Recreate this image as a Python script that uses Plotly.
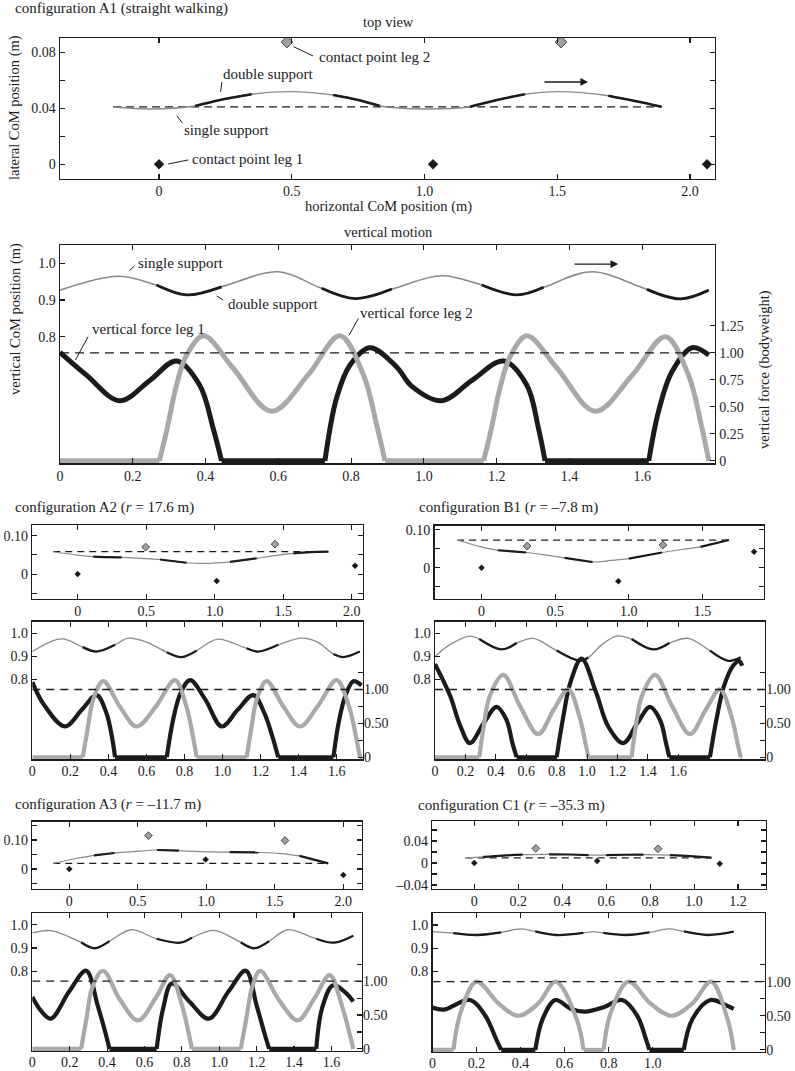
import plotly.graph_objects as go

W, H = 795, 1071
FONT = "Liberation Serif"
INK = "#1b1b1b"
GREY_F = "#a9a9a9"
GREY_C = "#8a8a8a"
GREY_D = "#a0a0a0"

# ---------------- A1 (straight walking) : top view ----------------
A1_TOP_X = [-0.173, -0.034, 0.136, 0.23, 0.349, 0.493, 0.656, 0.75, 0.832, 1.002, 1.171, 1.273, 1.378, 1.504, 1.692, 1.793, 1.893]
A1_TOP_Y = [0.0409, 0.0395, 0.0416, 0.0459, 0.0500, 0.0519, 0.0495, 0.0459, 0.0416, 0.0395, 0.0411, 0.0459, 0.0500, 0.0519, 0.0490, 0.0452, 0.0411]
A1_TOP_DS = [[0.136, 0.349], [0.656, 0.832], [1.171, 1.378], [1.692, 1.893]]
A1_TOP_REF = 0.041
A1_LEG1_X = [0.0, 1.032, 2.064]
A1_LEG1_Y = [0.0, 0.0, 0.0]
A1_LEG2_X = [0.482, 1.514]
A1_LEG2_Y = [0.0873, 0.0873]

# ---------------- A1 : vertical motion ----------------
A1_T_END = 1.783
A1_COM_T = [0, 0.16, 0.265, 0.348, 0.444, 0.60, 0.719, 0.811, 0.912, 1.049, 1.159, 1.256, 1.329, 1.462, 1.613, 1.705, 1.783]
A1_COM_Z = [0.927, 0.965, 0.941, 0.914, 0.936, 0.977, 0.932, 0.904, 0.930, 0.966, 0.941, 0.914, 0.935, 0.977, 0.929, 0.903, 0.927]
A1_DS = [[0.265, 0.444], [0.719, 0.912], [1.159, 1.329], [1.613, 1.783]]
A1_F1_T = [[0, 0.072, 0.164, 0.247, 0.32, 0.384, 0.421, 0.444],
           [0.728, 0.76, 0.797, 0.852, 0.925, 0.967, 1.049, 1.132, 1.219, 1.283, 1.315, 1.333],
           [1.618, 1.645, 1.682, 1.737, 1.783]]
A1_F1_F = [[1.005, 0.796, 0.557, 0.745, 0.925, 0.70, 0.30, 0],
           [0, 0.582, 0.888, 1.048, 0.87, 0.69, 0.557, 0.745, 0.925, 0.70, 0.30, 0],
           [0, 0.46, 0.827, 1.048, 0.98]]
A1_F2_T = [[0.273, 0.293, 0.32, 0.348, 0.395, 0.476, 0.581, 0.682, 0.769, 0.834, 0.87, 0.893],
           [1.164, 1.184, 1.211, 1.239, 1.283, 1.366, 1.471, 1.573, 1.664, 1.727, 1.762, 1.783]]
A1_F2_F = [[0, 0.276, 0.70, 0.98, 1.158, 0.858, 0.46, 0.796, 1.158, 0.796, 0.337, 0],
           [0, 0.276, 0.70, 0.98, 1.158, 0.858, 0.46, 0.796, 1.15, 0.796, 0.337, 0]]

# ---------------- A2 (r = 17.6 m) ----------------
A2_TOP_X = [-0.178, 0.0, 0.114, 0.22, 0.321, 0.46, 0.6, 0.795, 0.917, 1.112, 1.306, 1.44, 1.574, 1.70, 1.83]
A2_TOP_Y = [0.0583, 0.0496, 0.0455, 0.0440, 0.0435, 0.0410, 0.0380, 0.0296, 0.0279, 0.0320, 0.0409, 0.0480, 0.0540, 0.0570, 0.0583]
A2_TOP_DS = [[0.114, 0.321], [0.6, 0.795], [1.112, 1.306], [1.574, 1.83]]
A2_TOP_REF = 0.0583
A2_LEG1_X = [0.0, 1.015, 2.024]
A2_LEG1_Y = [0.0, -0.0183, 0.0218]
A2_LEG2_X = [0.496, 1.44]
A2_LEG2_Y = [0.0705, 0.078]

A2_T_END = 1.731
A2_COM_T = [0, 0.154, 0.265, 0.338, 0.435, 0.504, 0.60, 0.707, 0.785, 0.864, 0.97, 1.127, 1.188, 1.293, 1.416, 1.50, 1.583, 1.635, 1.722]
A2_COM_Z = [0.921, 0.976, 0.940, 0.921, 0.950, 0.979, 0.962, 0.918, 0.897, 0.925, 0.974, 0.935, 0.921, 0.950, 0.979, 0.962, 0.910, 0.897, 0.921]
A2_DS = [[0.265, 0.435], [0.707, 0.864], [1.127, 1.293], [1.583, 1.722]]
A2_F1_T = [[0, 0.06, 0.171, 0.26, 0.338, 0.39, 0.42, 0.435],
           [0.707, 0.74, 0.78, 0.83, 0.91, 0.996, 1.08, 1.162, 1.22, 1.265, 1.293],
           [1.583, 1.61, 1.645, 1.688, 1.731]]
A2_F1_F = [[1.11, 0.78, 0.454, 0.70, 0.917, 0.65, 0.28, 0],
           [0, 0.55, 0.95, 1.137, 0.85, 0.454, 0.70, 0.917, 0.65, 0.28, 0],
           [0, 0.5, 0.9, 1.122, 1.06]]
A2_F2_T = [[0.265, 0.29, 0.32, 0.373, 0.46, 0.548, 0.65, 0.75, 0.81, 0.845, 0.864],
           [1.127, 1.15, 1.18, 1.232, 1.32, 1.407, 1.5, 1.6, 1.665, 1.702, 1.722]]
A2_F2_F = [[0, 0.4, 0.85, 1.122, 0.75, 0.454, 0.75, 1.137, 0.75, 0.3, 0],
           [0, 0.4, 0.85, 1.122, 0.75, 0.454, 0.75, 1.137, 0.75, 0.3, 0]]

# ---------------- B1 (r = -7.8 m) ----------------
B1_TOP_X = [-0.165, -0.003, 0.11, 0.21, 0.303, 0.43, 0.564, 0.754, 0.88, 1.0, 1.226, 1.36, 1.487, 1.68]
B1_TOP_Y = [0.073, 0.055, 0.046, 0.043, 0.040, 0.034, 0.026, 0.015, 0.019, 0.024, 0.040, 0.048, 0.055, 0.073]
B1_TOP_DS = [[0.11, 0.303], [0.564, 0.754], [1.0, 1.226], [1.487, 1.68]]
B1_TOP_REF = 0.073
B1_LEG1_X = [0.0, 0.929, 1.85]
B1_LEG1_Y = [0.0, -0.036, 0.042]
B1_LEG2_X = [0.31, 1.232]
B1_LEG2_Y = [0.057, 0.060]

B1_T_END = 2.02
B1_COM_T = [0, 0.10, 0.23, 0.291, 0.438, 0.537, 0.646, 0.8, 0.953, 1.008, 1.10, 1.194, 1.293, 1.435, 1.541, 1.666, 1.808, 1.929, 2.01]
B1_COM_Z = [0.899, 0.952, 0.988, 0.975, 0.930, 0.958, 0.978, 0.925, 0.881, 0.895, 0.952, 0.988, 0.975, 0.930, 0.958, 0.978, 0.925, 0.881, 0.896]
B1_DS = [[0.291, 0.537], [0.8, 1.008], [1.293, 1.541], [1.808, 2.01]]
B1_F1_T = [[0, 0.099, 0.164, 0.23, 0.32, 0.405, 0.47, 0.51, 0.537],
           [0.8, 0.84, 0.89, 0.964, 1.06, 1.14, 1.238, 1.33, 1.414, 1.48, 1.52, 1.541],
           [1.808, 1.85, 1.9, 1.96, 2.0, 2.02]]
B1_F1_F = [[1.374, 0.91, 0.476, 0.209, 0.50, 0.743, 0.55, 0.20, 0],
           [0, 0.55, 1.10, 1.456, 0.95, 0.45, 0.209, 0.50, 0.743, 0.55, 0.20, 0],
           [0, 0.55, 1.05, 1.35, 1.42, 1.35]]
B1_F2_T = [[0.291, 0.32, 0.36, 0.449, 0.56, 0.679, 0.78, 0.877, 0.95, 0.99, 1.008],
           [1.293, 1.32, 1.36, 1.447, 1.56, 1.677, 1.78, 1.874, 1.95, 1.99, 2.01]]
B1_F2_F = [[0, 0.45, 0.9, 1.214, 0.75, 0.34, 0.70, 1.0, 0.6, 0.2, 0],
           [0, 0.45, 0.9, 1.214, 0.75, 0.34, 0.70, 1.0, 0.6, 0.2, 0]]

# ---------------- A3 (r = -11.7 m) ----------------
A3_TOP_X = [-0.117, 0.03, 0.18, 0.33, 0.467, 0.64, 0.8, 0.95, 1.17, 1.38, 1.52, 1.68, 1.89]
A3_TOP_Y = [0.0195, 0.0345, 0.047, 0.055, 0.060, 0.0655, 0.063, 0.0595, 0.058, 0.057, 0.054, 0.045, 0.0195]
A3_TOP_DS = [[0.18, 0.33], [0.64, 0.8], [1.17, 1.38], [1.68, 1.89]]
A3_TOP_REF = 0.0195
A3_LEG1_X = [0.0, 0.995, 2.0]
A3_LEG1_Y = [0.0, 0.033, -0.021]
A3_LEG2_X = [0.577, 1.574]
A3_LEG2_Y = [0.115, 0.098]

A3_T_END = 1.717
A3_COM_T = [0, 0.099, 0.261, 0.333, 0.413, 0.53, 0.665, 0.791, 0.854, 0.97, 1.115, 1.187, 1.267, 1.366, 1.519, 1.614, 1.717]
A3_COM_Z = [0.965, 0.975, 0.925, 0.899, 0.930, 0.979, 0.940, 0.923, 0.945, 0.976, 0.925, 0.899, 0.930, 0.979, 0.940, 0.923, 0.953]
A3_DS = [[0.261, 0.413], [0.665, 0.854], [1.115, 1.267], [1.519, 1.717]]
A3_F1_T = [[0, 0.05, 0.099, 0.198, 0.288, 0.35, 0.39, 0.413],
           [0.665, 0.70, 0.746, 0.84, 0.944, 1.05, 1.142, 1.20, 1.24, 1.267],
           [1.519, 1.55, 1.609, 1.68, 1.717]]
A3_F1_F = [[0.767, 0.55, 0.446, 0.85, 1.153, 0.64, 0.25, 0],
           [0, 0.6, 0.965, 0.70, 0.446, 0.85, 1.153, 0.64, 0.25, 0],
           [0, 0.6, 0.94, 0.82, 0.70]]
A3_F2_T = [[0.261, 0.29, 0.32, 0.378, 0.47, 0.566, 0.66, 0.737, 0.80, 0.835, 0.854],
           [1.115, 1.145, 1.175, 1.219, 1.32, 1.42, 1.51, 1.591, 1.655, 1.695, 1.717]]
A3_F2_F = [[0, 0.45, 0.9, 1.153, 0.72, 0.42, 0.75, 1.089, 0.65, 0.25, 0],
           [0, 0.45, 0.9, 1.153, 0.72, 0.42, 0.75, 1.089, 0.65, 0.25, 0]]

# ---------------- C1 (r = -35.3 m) ----------------
C1_TOP_X = [-0.039, 0.04, 0.13, 0.22, 0.34, 0.43, 0.52, 0.6, 0.68, 0.77, 0.89, 0.98, 1.079]
C1_TOP_Y = [0.0092, 0.011, 0.0135, 0.0152, 0.0158, 0.0155, 0.0145, 0.0145, 0.015, 0.0154, 0.0145, 0.0125, 0.0098]
C1_TOP_DS = [[0.04, 0.22], [0.34, 0.52], [0.6, 0.77], [0.89, 1.079]]
C1_TOP_REF = 0.0092
C1_LEG1_X = [0.0, 0.559, 1.117]
C1_LEG1_Y = [0.0, 0.0037, -0.0012]
C1_LEG2_X = [0.28, 0.836]
C1_LEG2_Y = [0.0265, 0.0258]

C1_T_END = 1.368
C1_COM_T = [0, 0.094, 0.203, 0.312, 0.399, 0.467, 0.562, 0.685, 0.73, 0.776, 0.88, 0.985, 1.071, 1.142, 1.251, 1.368]
C1_COM_Z = [0.971, 0.965, 0.957, 0.968, 0.983, 0.972, 0.957, 0.966, 0.971, 0.966, 0.957, 0.968, 0.983, 0.972, 0.957, 0.971]
C1_DS = [[0.094, 0.312], [0.467, 0.685], [0.776, 0.985], [1.142, 1.368]]
C1_F1_T = [[0, 0.05, 0.171, 0.24, 0.29, 0.312],
           [0.467, 0.50, 0.558, 0.63, 0.694, 0.78, 0.861, 0.93, 0.97, 0.985],
           [1.141, 1.18, 1.262, 1.33, 1.368]]
C1_F1_F = [[0.62, 0.59, 0.73, 0.5, 0.15, 0],
           [0, 0.45, 0.73, 0.6, 0.56, 0.63, 0.73, 0.5, 0.15, 0],
           [0, 0.45, 0.73, 0.66, 0.60]]
C1_F2_T = [[0.095, 0.128, 0.2, 0.3, 0.39, 0.48, 0.56, 0.655, 0.686],
           [0.777, 0.81, 0.89, 0.99, 1.085, 1.18, 1.265, 1.34, 1.368]]
C1_F2_F = [[0, 0.55, 1.0, 0.68, 0.5, 0.68, 1.0, 0.45, 0],
           [0, 0.55, 1.0, 0.68, 0.5, 0.68, 1.0, 0.45, 0]]

# tick definitions
FORCE_TICKS = [0, 0.25, 0.5, 0.75, 1.0, 1.25]
FORCE_LABELS_BIG = ["0", "0.25", "0.50", "0.75", "1.00", "1.25"]
FORCE_LABELS_SMALL = ["0", "", "0.50", "", "1.00", ""]
COM_TICKS = [0.8, 0.9, 1.0]
COM_LABELS = ["0.8", "0.9", "1.0"]
T_TICKS_16 = [0, 0.2, 0.4, 0.6, 0.8, 1.0, 1.2, 1.4, 1.6]
T_LABELS_16 = ["0", "0.2", "0.4", "0.6", "0.8", "1.0", "1.2", "1.4", "1.6"]
T_TICKS_10 = [0, 0.2, 0.4, 0.6, 0.8, 1.0]
T_LABELS_10 = ["0", "0.2", "0.4", "0.6", "0.8", "1.0"]
X_TICKS_20 = [0, 0.5, 1.0, 1.5, 2.0]
X_LABELS_20 = ["0", "0.5", "1.0", "1.5", "2.0"]
X_TICKS_15 = [0, 0.5, 1.0, 1.5]
X_LABELS_15 = ["0", "0.5", "1.0", "1.5"]
X_TICKS_12 = [0, 0.2, 0.4, 0.6, 0.8, 1.0, 1.2]
X_LABELS_12 = ["0", "0.2", "0.4", "0.6", "0.8", "1.0", "1.2"]

# ---------------------------------------------------------------
fig = go.Figure()
layout = {}
annotations = []

AXIS = dict(showline=True, linecolor=INK, linewidth=1.4, ticks="inside", ticklen=5,
            tickwidth=1.1, tickcolor=INK, showgrid=False, zeroline=False,
            tickfont=dict(family=FONT, size=14, color=INK), automargin=False)


def an(letter, i):
    return f"{letter}axis" if i == 1 else f"{letter}axis{i}"


def rf(letter, i):
    return letter if i == 1 else f"{letter}{i}"


def xdom(l, r):
    return [l / W, r / W]


def ydom(t, b):
    return [1 - b / H, 1 - t / H]


def pick(xs, ys, a, b):
    px, py = [], []
    for x, y in zip(xs, ys):
        if a - 1e-9 <= x <= b + 1e-9:
            px.append(x)
            py.append(y)
    return px, py


def line_trace(x, y, xa, ya, color, width, shape="spline", dash=None):
    return go.Scatter(x=x, y=y, xaxis=xa, yaxis=ya, mode="lines", hoverinfo="skip",
                      line=dict(color=color, width=width, shape=shape, dash=dash))


def top_panel(xi, yi, box, xr, yr, xtv, xtt, ytv, ytt, cx, cy, ds, refy, l1x, l1y, l2x, l2y, big):
    l, r, t, b = box
    xa, ya = rf("x", xi), rf("y", yi)
    layout[an("x", xi)] = dict(AXIS, domain=xdom(l, r), range=xr, tickvals=xtv, ticktext=xtt,
                               anchor=ya, mirror="ticks", ticklabelstandoff=-1)
    layout[an("y", yi)] = dict(AXIS, domain=ydom(t, b), range=yr, tickvals=ytv, ticktext=ytt,
                               anchor=xa, mirror="ticks")
    w_thin, w_thick = (1.4, 2.6) if big else (1.2, 2.2)
    fig.add_trace(line_trace([cx[0], cx[-1]], [refy, refy], xa, ya, INK, 1.3, "linear",
                             "8px,5px" if big else "7px,5px"))
    fig.add_trace(line_trace(cx, cy, xa, ya, GREY_C, w_thin))
    for a, bb in ds:
        sx, sy = pick(cx, cy, a, bb)
        fig.add_trace(line_trace(sx, sy, xa, ya, INK, w_thick))
    ms = 8 if big else 5
    fig.add_trace(go.Scatter(x=l1x, y=l1y, xaxis=xa, yaxis=ya, mode="markers", hoverinfo="skip",
                             marker=dict(symbol="diamond", size=ms, color=INK)))
    fig.add_trace(go.Scatter(x=l2x, y=l2y, xaxis=xa, yaxis=ya, mode="markers", hoverinfo="skip",
                             marker=dict(symbol="diamond", size=ms + 1, color=GREY_D,
                                         line=dict(color="#4a4a4a", width=1))))


def force(xa, yb, segs_t, segs_f, t_end, color, width):
    xs, ys = [], []
    for tt, ff in zip(segs_t, segs_f):
        xs += list(tt) + [None]
        ys += list(ff) + [None]
    zx, zy = [], []
    prev = 0.0
    for tt in segs_t:
        if tt[0] > prev + 1e-9:
            zx += [prev, tt[0], None]
            zy += [0, 0, None]
        prev = tt[-1]
    if prev < t_end - 1e-9:
        zx += [prev, t_end]
        zy += [0, 0]
    fig.add_trace(line_trace(zx, zy, xa, yb, color, width, "linear"))
    fig.add_trace(line_trace(xs, ys, xa, yb, color, width, "spline"))


def vert_panel(xi, yl, yr_, box, xr, xtv, xtt, rtt, ct, cz, ds, f1t, f1f, f2t, f2f, t_end, dash_end, big):
    l, r, t, b = box
    xa, ya, yb = rf("x", xi), rf("y", yl), rf("y", yr_)
    fw = 5.0 if big else 4.2
    pad = (fw / 2) / ((b - t) / 2.0)
    layout[an("x", xi)] = dict(AXIS, domain=xdom(l, r), range=xr, tickvals=xtv, ticktext=xtt,
                               anchor=ya, mirror="ticks", ticklabelstandoff=(-1 if big else -2))
    layout[an("y", yl)] = dict(AXIS, domain=ydom(t, b), range=[0.455, 1.05], tickvals=COM_TICKS,
                               ticktext=COM_LABELS, anchor=xa)
    layout[an("y", yr_)] = dict(AXIS, overlaying=ya, side="right", anchor=xa, range=[-pad, 2.0],
                                tickvals=FORCE_TICKS, ticktext=rtt,
                                ticklabelstandoff=(0 if big else -3))
    w_thin, w_thick = (1.6, 2.8) if big else (1.3, 2.3)
    fig.add_trace(line_trace(ct, cz, xa, ya, GREY_C, w_thin))
    for a, bb in ds:
        sx, sy = pick(ct, cz, a, bb)
        fig.add_trace(line_trace(sx, sy, xa, ya, INK, w_thick))
    force(xa, yb, f1t, f1f, t_end, INK, fw)
    force(xa, yb, f2t, f2f, t_end, GREY_F, fw)
    fig.add_trace(line_trace([0, dash_end], [1.0, 1.0], xa, yb, INK, 1.4, "linear",
                             "9px,6px" if big else "8px,6px"))


# ---- panels ----
top_panel(1, 1, (60, 715, 38, 179), [-0.373, 2.094], [-0.0105, 0.0902],
          X_TICKS_20, X_LABELS_20, [0, 0.02, 0.04, 0.06, 0.08], ["0", "", "0.04", "", "0.08"],
          A1_TOP_X, A1_TOP_Y, A1_TOP_DS, A1_TOP_REF, A1_LEG1_X, A1_LEG1_Y, A1_LEG2_X, A1_LEG2_Y, True)
vert_panel(2, 2, 3, (60, 715, 245, 463.3), [0, 1.8], T_TICKS_16, T_LABELS_16, FORCE_LABELS_BIG,
           A1_COM_T, A1_COM_Z, A1_DS, A1_F1_T, A1_F1_F, A1_F2_T, A1_F2_F, A1_T_END, 1.78, True)

top_panel(3, 4, (32.3, 362.7, 525, 599), [-0.331, 2.08], [-0.065, 0.128],
          X_TICKS_20, X_LABELS_20, [-0.05, 0, 0.05, 0.10], ["", "0", "", "0.10"],
          A2_TOP_X, A2_TOP_Y, A2_TOP_DS, A2_TOP_REF, A2_LEG1_X, A2_LEG1_Y, A2_LEG2_X, A2_LEG2_Y, False)
vert_panel(4, 5, 6, (32.3, 362.7, 621.7, 759.3), [0, 1.737], T_TICKS_16, T_LABELS_16, FORCE_LABELS_SMALL,
           A2_COM_T, A2_COM_Z, A2_DS, A2_F1_T, A2_F1_F, A2_F2_T, A2_F2_F, A2_T_END, 1.737, False)

top_panel(5, 7, (434.5, 764, 525.5, 599), [-0.319, 1.918], [-0.083, 0.1115],
          X_TICKS_15, X_LABELS_15, [-0.05, 0, 0.05, 0.10], ["", "0", "", "0.10"],
          B1_TOP_X, B1_TOP_Y, B1_TOP_DS, B1_TOP_REF, B1_LEG1_X, B1_LEG1_Y, B1_LEG2_X, B1_LEG2_Y, False)
vert_panel(6, 8, 9, (435, 765, 621.7, 759.3), [0, 2.17], T_TICKS_16, T_LABELS_16, FORCE_LABELS_SMALL,
           B1_COM_T, B1_COM_Z, B1_DS, B1_F1_T, B1_F1_F, B1_F2_T, B1_F2_F, B1_T_END, 2.17, False)

top_panel(7, 10, (32.3, 361.7, 821.7, 889), [-0.27, 2.134], [-0.069, 0.163],
          X_TICKS_20, X_LABELS_20, [-0.05, 0, 0.05, 0.10, 0.15], ["", "0", "", "0.10", ""],
          A3_TOP_X, A3_TOP_Y, A3_TOP_DS, A3_TOP_REF, A3_LEG1_X, A3_LEG1_Y, A3_LEG2_X, A3_LEG2_Y, False)
vert_panel(8, 11, 12, (32.3, 361.7, 913.3, 1051), [0, 1.762], T_TICKS_16, T_LABELS_16, FORCE_LABELS_SMALL,
           A3_COM_T, A3_COM_Z, A3_DS, A3_F1_T, A3_F1_F, A3_F2_T, A3_F2_F, A3_T_END, 1.762, False)

top_panel(9, 13, (432.3, 765.5, 821, 889), [-0.191, 1.325], [-0.0473, 0.0764],
          X_TICKS_12, X_LABELS_12, [-0.04, -0.02, 0, 0.02, 0.04, 0.06], ["–0.04", "", "0", "", "0.04", ""],
          C1_TOP_X, C1_TOP_Y, C1_TOP_DS, C1_TOP_REF, C1_LEG1_X, C1_LEG1_Y, C1_LEG2_X, C1_LEG2_Y, False)
vert_panel(10, 14, 15, (432.5, 765, 913.3, 1052), [0, 1.51], T_TICKS_10, T_LABELS_10, FORCE_LABELS_SMALL,
           C1_COM_T, C1_COM_Z, C1_DS, C1_F1_T, C1_F1_F, C1_F2_T, C1_F2_F, C1_T_END, 1.51, False)


# ---- text ----
def ptext(x, y, text, anchor="center", angle=0, size=14.5):
    return dict(xref="paper", yref="paper", x=x / W, y=1 - y / H, text=text, showarrow=False,
                xanchor=anchor, yanchor="middle", textangle=angle,
                font=dict(family=FONT, size=size, color=INK))


def dtext(xa, ya, x, y, text):
    return dict(xref=xa, yref=ya, x=x, y=y, text=text, showarrow=False, xanchor="left",
                yanchor="middle", font=dict(family=FONT, size=15, color=INK))


def leader(xa, ya, x0, y0, x1, y1, head=0, width=1.0, size=1.0):
    return dict(xref=xa, yref=ya, axref=xa, ayref=ya, x=x1, y=y1, ax=x0, ay=y0, text="",
                showarrow=True, arrowhead=head, arrowwidth=width, arrowsize=size, arrowcolor=INK)


annotations += [
    ptext(13, 9, "configuration A1 (straight walking)", "left", size=15),
    ptext(388, 22, "top view"),
    ptext(388, 207, "horizontal CoM position (m)"),
    ptext(388, 232, "vertical motion"),
    ptext(15, 108, "lateral CoM position (m)", angle=-90),
    ptext(15, 319, "vertical CoM position (m)", angle=-90),
    ptext(764, 370, "vertical force (bodyweight)", angle=-90),
    ptext(13, 507, "configuration A2 (<i>r</i> = 17.6 m)", "left", size=15),
    ptext(417, 507, "configuration B1 (<i>r</i> = –7.8 m)", "left", size=15),
    ptext(13, 804, "configuration A3 (<i>r</i> = –11.7 m)", "left", size=15),
    ptext(416, 805, "configuration C1 (<i>r</i> = –35.3 m)", "left", size=15),
    # top view labels
    dtext("x", "y", 0.595, 0.0766, "contact point leg 2"),
    leader("x", "y", 0.501, 0.0845, 0.58, 0.0774),
    dtext("x", "y", 0.234, 0.0645, "double support"),
    leader("x", "y", 0.231, 0.0507, 0.237, 0.0587),
    dtext("x", "y", 0.087, 0.0245, "single support"),
    leader("x", "y", 0.063, 0.0357, 0.089, 0.0293),
    dtext("x", "y", 0.117, 0.0038, "contact point leg 1"),
    leader("x", "y", 0.029, 0.0, 0.11, 0.0031),
    leader("x", "y", 1.446, 0.0588, 1.616, 0.0588, head=2, width=1.4, size=1.1),
    # vertical motion labels
    dtext("x2", "y2", 0.21, 1.001, "single support"),
    leader("x2", "y2", 0.187, 0.977, 0.205, 0.993),
    dtext("x2", "y2", 0.455, 0.889, "double support"),
    leader("x2", "y2", 0.426, 0.914, 0.448, 0.900),
    dtext("x2", "y2", 0.082, 0.82, "vertical force leg 1"),
    leader("x2", "y2", 0.04, 0.732, 0.077, 0.80),
    dtext("x2", "y2", 0.82, 0.864, "vertical force leg 2"),
    leader("x2", "y2", 0.792, 0.80, 0.82, 0.85),
    leader("x2", "y2", 1.41, 0.998, 1.534, 0.998, head=2, width=1.4, size=1.1),
]

fig.update_layout(width=W, height=H, margin=dict(l=0, r=0, t=0, b=0, pad=0),
                  paper_bgcolor="white", plot_bgcolor="white", showlegend=False,
                  hovermode=False, dragmode=False,
                  font=dict(family=FONT, size=14, color=INK), annotations=annotations, **layout)

# the page's default 8px body margin would shift the figure; remove it so the
# 795x1071 figure fills the window exactly
fig.write_html("out.html",
               config={"displayModeBar": False, "staticPlot": True},
               post_script="document.body.style.margin='0px';"
                           "document.documentElement.style.overflow='hidden';")
